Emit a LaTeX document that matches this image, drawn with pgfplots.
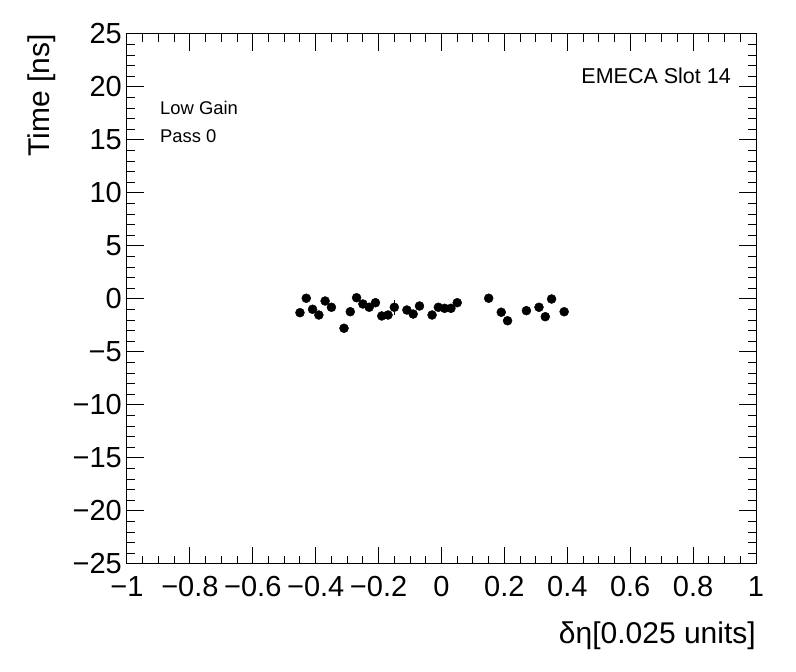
\documentclass[border=0pt]{standalone}
\usepackage{fontspec}
\setmainfont{Liberation Sans}
\usepackage{pgfplots}
\pgfplotsset{compat=1.18}
\begin{document}
\begin{tikzpicture}[x=1pt,y=1pt]
\path[use as bounding box] (0,0) rectangle (796,672);
\begin{axis}[
  at={(127pt,108pt)}, anchor=south west,
  scale only axis, width=629pt, height=530pt,
  xmin=-1, xmax=1, ymin=-25, ymax=25,
  xtick={-1,-0.8,-0.6,-0.4,-0.2,0,0.2,0.4,0.6,0.8,1},
  xticklabels={−1,−0.8,−0.6,−0.4,−0.2,0,0.2,0.4,0.6,0.8,1},
  ytick={-25,-20,-15,-10,-5,0,5,10,15,20,25},
  yticklabels={−25,−20,−15,−10,−5,0,5,10,15,20,25},
  minor x tick num=3, minor y tick num=4,
  tick align=inside, tick pos=both,
  major tick length=17pt, minor tick length=8pt,
  axis line style={line width=1pt},
  every tick/.style={line width=1pt, black},
  tick label style={font=\fontsize{29}{34}\selectfont},
  xticklabel style={anchor=north, inner sep=0pt, yshift=-12pt},
  yticklabel style={anchor=east, inner sep=0pt, xshift=-5pt},
  label style={font=\fontsize{30}{36}\selectfont},
  xlabel={δη[0.025 units]},
  ylabel={Time [ns]},
  xlabel style={at={(axis description cs:1,-0.136)}, anchor=east, inner sep=0pt},
  ylabel style={at={(axis description cs:-0.135,1)}, anchor=east, inner sep=0pt},
  clip=false,
]
\addplot[only marks, mark=*, black, mark size=4.5pt,
  error bars/.cd, y dir=both, y explicit, error mark=none,
  error bar style={line width=1pt, black}]
  table[x=x, y=y, y error=e] {
x y e
-0.45 -1.29 0.3
-0.43 0.07 0.3
-0.41 -0.97 0.3
-0.39 -1.51 0.3
-0.37 -0.19 0.3
-0.35 -0.78 0.3
-0.31 -2.76 0.3
-0.29 -1.20 0.3
-0.27 0.12 0.3
-0.25 -0.47 0.3
-0.23 -0.78 0.3
-0.21 -0.35 0.3
-0.19 -1.60 0.3
-0.17 -1.51 0.3
-0.15 -0.78 0.7
-0.11 -1.04 0.3
-0.09 -1.42 0.3
-0.07 -0.66 0.3
-0.03 -1.51 0.3
-0.01 -0.78 0.3
0.01 -0.88 0.3
0.03 -0.88 0.3
0.05 -0.35 0.3
0.15 0.07 0.3
0.19 -1.25 0.3
0.21 -2.05 0.3
0.27 -1.10 0.3
0.31 -0.78 0.3
0.33 -1.67 0.3
0.35 0.00 0.3
0.39 -1.20 0.3
};
\node[anchor=west, inner sep=0pt, font=\fontsize{18.4}{22}\selectfont] at (axis cs:-0.895,18.0) {Low Gain};
\node[anchor=west, inner sep=0pt, font=\fontsize{18.4}{22}\selectfont] at (axis cs:-0.895,15.4) {Pass 0};
\node[anchor=east, inner sep=0pt, font=\fontsize{21.5}{25}\selectfont] at (axis cs:0.9205,21.1) {EMECA Slot 14};
\end{axis}
\end{tikzpicture}
\end{document}
